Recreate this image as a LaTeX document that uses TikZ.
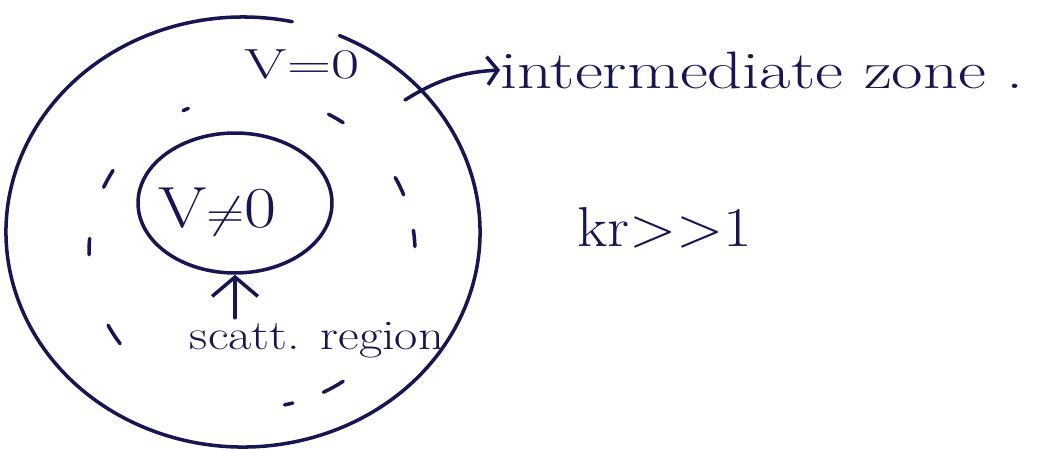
\documentclass[tikz,border=0pt]{standalone}
\usetikzlibrary{arrows.meta,shapes.geometric}
\definecolor{ink}{RGB}{22,22,82}
\begin{document}
\begin{tikzpicture}[x=0.02cm,y=0.02cm,
  pen/.style={draw=ink,line width=2pt,line cap=round,line join=round},
  lbl/.style={text=ink,inner sep=0pt},
  barb/.style={-{Straight Barb[length=6pt,width=16pt,line width=2pt]}},
  bigbarb/.style={-{Straight Barb[length=11pt,width=26pt,line width=2pt]}}]
\useasboundingbox[fill=white] (0,0) rectangle (1037,450);
% outer zone boundary (hand-drawn, small gap at top)
\draw[pen] (243,218) ++(66:237 and 215) arc[start angle=66,end angle=-282,x radius=237,y radius=215];
% dashed intermediate boundary, drawn dash by dash
\foreach \a/\h in {114/1, 59/3, 152/3.5, 25/3.5, 178/3, 5/3, 212/4, 300/4, 283/1.5}
  \draw[pen] (252,198) ++(\a-\h:163 and 156) arc[start angle=\a-\h,end angle=\a+\h,x radius=163,y radius=156];
% inner scattering region
\node[pen,ellipse,minimum width=3.88cm,minimum height=2.8cm,inner sep=0pt] (inner) at (235,247) {};
\node[lbl,font=\fontsize{33}{40}\selectfont] (vne) at (217,238) {\scalebox{1.2}[1]{V$\neq$0}};
\node[lbl,font=\fontsize{24}{30}\selectfont] (veq) at (302,386) {\scalebox{1.45}[1]{V=0}};
\node[lbl,font=\fontsize{30}{36}\selectfont,anchor=west] (inter) at (500,380) {\scalebox{1.3}[1]{intermediate zone .}};
\node[lbl,font=\fontsize{32}{38}\selectfont] (kr) at (665,222) {\scalebox{1.1}[1]{kr>{}>1}};
\node[lbl,font=\fontsize{24}{30}\selectfont] (scatt) at (317,110) {\scalebox{1.2}[1]{scatt. region}};
\coordinate (a0) at (405,350);
\draw[pen,barb] (a0) .. controls (440,372) and (465,378) .. (inter.west);
\draw[pen,bigbarb] (inner.south |- scatt.north) ++(0,4) -- (inner.south);
\end{tikzpicture}
\end{document}
